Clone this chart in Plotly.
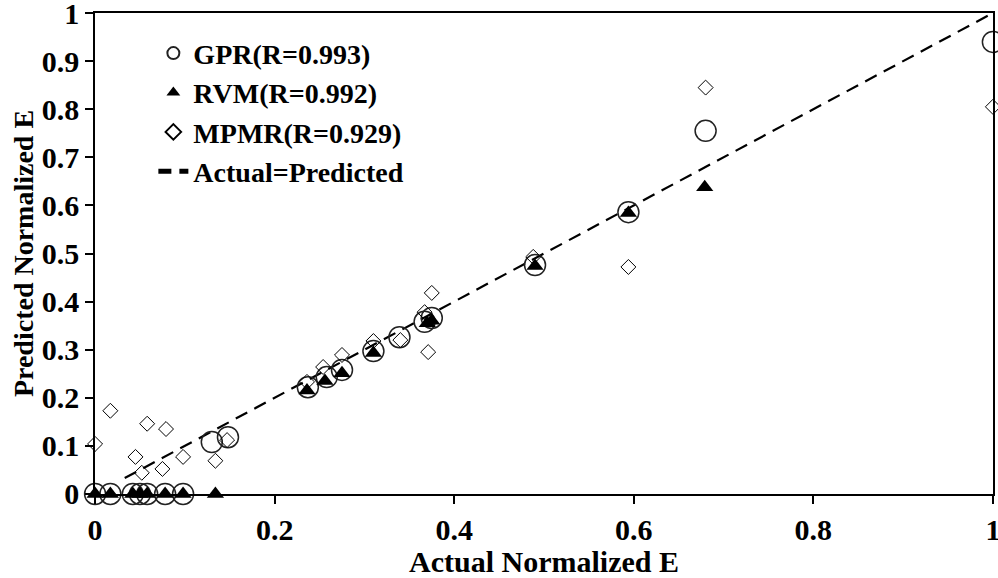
import plotly.graph_objects as go

# ---- data ----
gpr_actual = [0.0, 0.017, 0.042, 0.05, 0.058, 0.078, 0.098, 0.130, 0.148, 0.237, 0.258,
              0.275, 0.310, 0.339, 0.367, 0.375, 0.490, 0.594, 0.680, 1.0]
gpr_pred = [0.0, 0.0, 0.0, 0.0, 0.0, 0.0, 0.0, 0.108, 0.118, 0.222, 0.243,
            0.258, 0.297, 0.326, 0.358, 0.366, 0.476, 0.586, 0.755, 0.94]

rvm_actual = [0.0, 0.017, 0.042, 0.05, 0.058, 0.078, 0.098, 0.134, 0.236, 0.256,
              0.275, 0.310, 0.370, 0.375, 0.490, 0.594, 0.679]
rvm_pred = [0.0, 0.0, 0.0, 0.0, 0.0, 0.0, 0.0, 0.0, 0.215, 0.235,
            0.251, 0.293, 0.355, 0.360, 0.474, 0.584, 0.638]

mpmr_actual = [0.0, 0.017, 0.045, 0.052, 0.058, 0.075, 0.079, 0.098, 0.134, 0.147,
               0.236, 0.254, 0.275, 0.310, 0.340, 0.367, 0.371, 0.375, 0.488, 0.594,
               0.680, 1.0]
mpmr_pred = [0.104, 0.173, 0.077, 0.044, 0.146, 0.052, 0.135, 0.077, 0.069, 0.112,
             0.233, 0.264, 0.289, 0.318, 0.320, 0.378, 0.295, 0.418, 0.493, 0.472,
             0.845, 0.805]

line_x = [0.033, 1.0]
line_y = [0.033, 1.0]

series_names = ["GPR(R=0.993)", "RVM(R=0.992)", "MPMR(R=0.929)", "Actual=Predicted"]

x_tickvals = [0, 0.2, 0.4, 0.6, 0.8, 1.0]
x_ticktext = ["0", "0.2", "0.4", "0.6", "0.8", "1"]
y_tickvals = [0, 0.1, 0.2, 0.3, 0.4, 0.5, 0.6, 0.7, 0.8, 0.9, 1.0]
y_ticktext = ["0", "0.1", "0.2", "0.3", "0.4", "0.5", "0.6", "0.7", "0.8", "0.9", "1"]

x_title = "Actual Normalized E"
y_title = "Predicted Normalized E"

FONT = "Liberation Serif, Times New Roman, serif"
EPS = 1e-4

fig = go.Figure()

fig.add_trace(go.Scatter(
    x=line_x, y=line_y, mode="lines", name=series_names[3], legendrank=4,
    line=dict(color="black", width=2.2, dash="13px,8px"),
))
fig.add_trace(go.Scatter(
    x=gpr_actual, y=gpr_pred, mode="markers", name=series_names[0], legendrank=1,
    cliponaxis=False,
    marker=dict(symbol="circle-open", size=21, color="#222222", line=dict(width=1.5)),
))
fig.add_trace(go.Scatter(
    x=rvm_actual, y=rvm_pred, mode="markers", name=series_names[1], legendrank=2,
    cliponaxis=False,
    marker=dict(symbol="triangle-up", size=15, color="black"),
))
fig.add_trace(go.Scatter(
    x=mpmr_actual, y=mpmr_pred, mode="markers", name=series_names[2], legendrank=3,
    cliponaxis=False,
    marker=dict(symbol="diamond-open", size=11.5, color="black", line=dict(width=1)),
))

axis_common = dict(
    showline=True, linecolor="black", linewidth=1.5, mirror=True,
    ticks="outside", ticklen=8, tickwidth=1.5, tickcolor="black",
    showgrid=False, zeroline=False, automargin=False,
    ticklabeloverflow="allow",
    tickfont=dict(family=FONT, size=30, color="black", weight="bold"),
)

fig.update_xaxes(range=[-EPS, 1 + EPS], tickvals=x_tickvals, ticktext=x_ticktext,
                 title=dict(text="<b>" + x_title + "</b>",
                            font=dict(family=FONT, size=30, color="black"),
                            standoff=12),
                 **axis_common)
fig.update_yaxes(range=[-EPS, 1 + EPS], tickvals=y_tickvals, ticktext=y_ticktext,
                 title=dict(text="<b>" + y_title + "</b>",
                            font=dict(family=FONT, size=28, color="black"),
                            standoff=0),
                 **axis_common)

fig.update_layout(
    width=998, height=578,
    margin=dict(l=95, r=5, t=13, b=84),
    paper_bgcolor="white", plot_bgcolor="white",
    font=dict(family=FONT, size=28, color="black", weight="bold"),
    legend=dict(x=0.065, y=0.968, xanchor="left", yanchor="top",
                bgcolor="rgba(0,0,0,0)", borderwidth=0,
                font=dict(family=FONT, size=28, color="black", weight="bold"),
                itemsizing="constant", tracegroupgap=0),
    showlegend=True,
)

fig.write_html("out.html", config={"displayModeBar": False},
               post_script="document.body.style.margin='0';")
